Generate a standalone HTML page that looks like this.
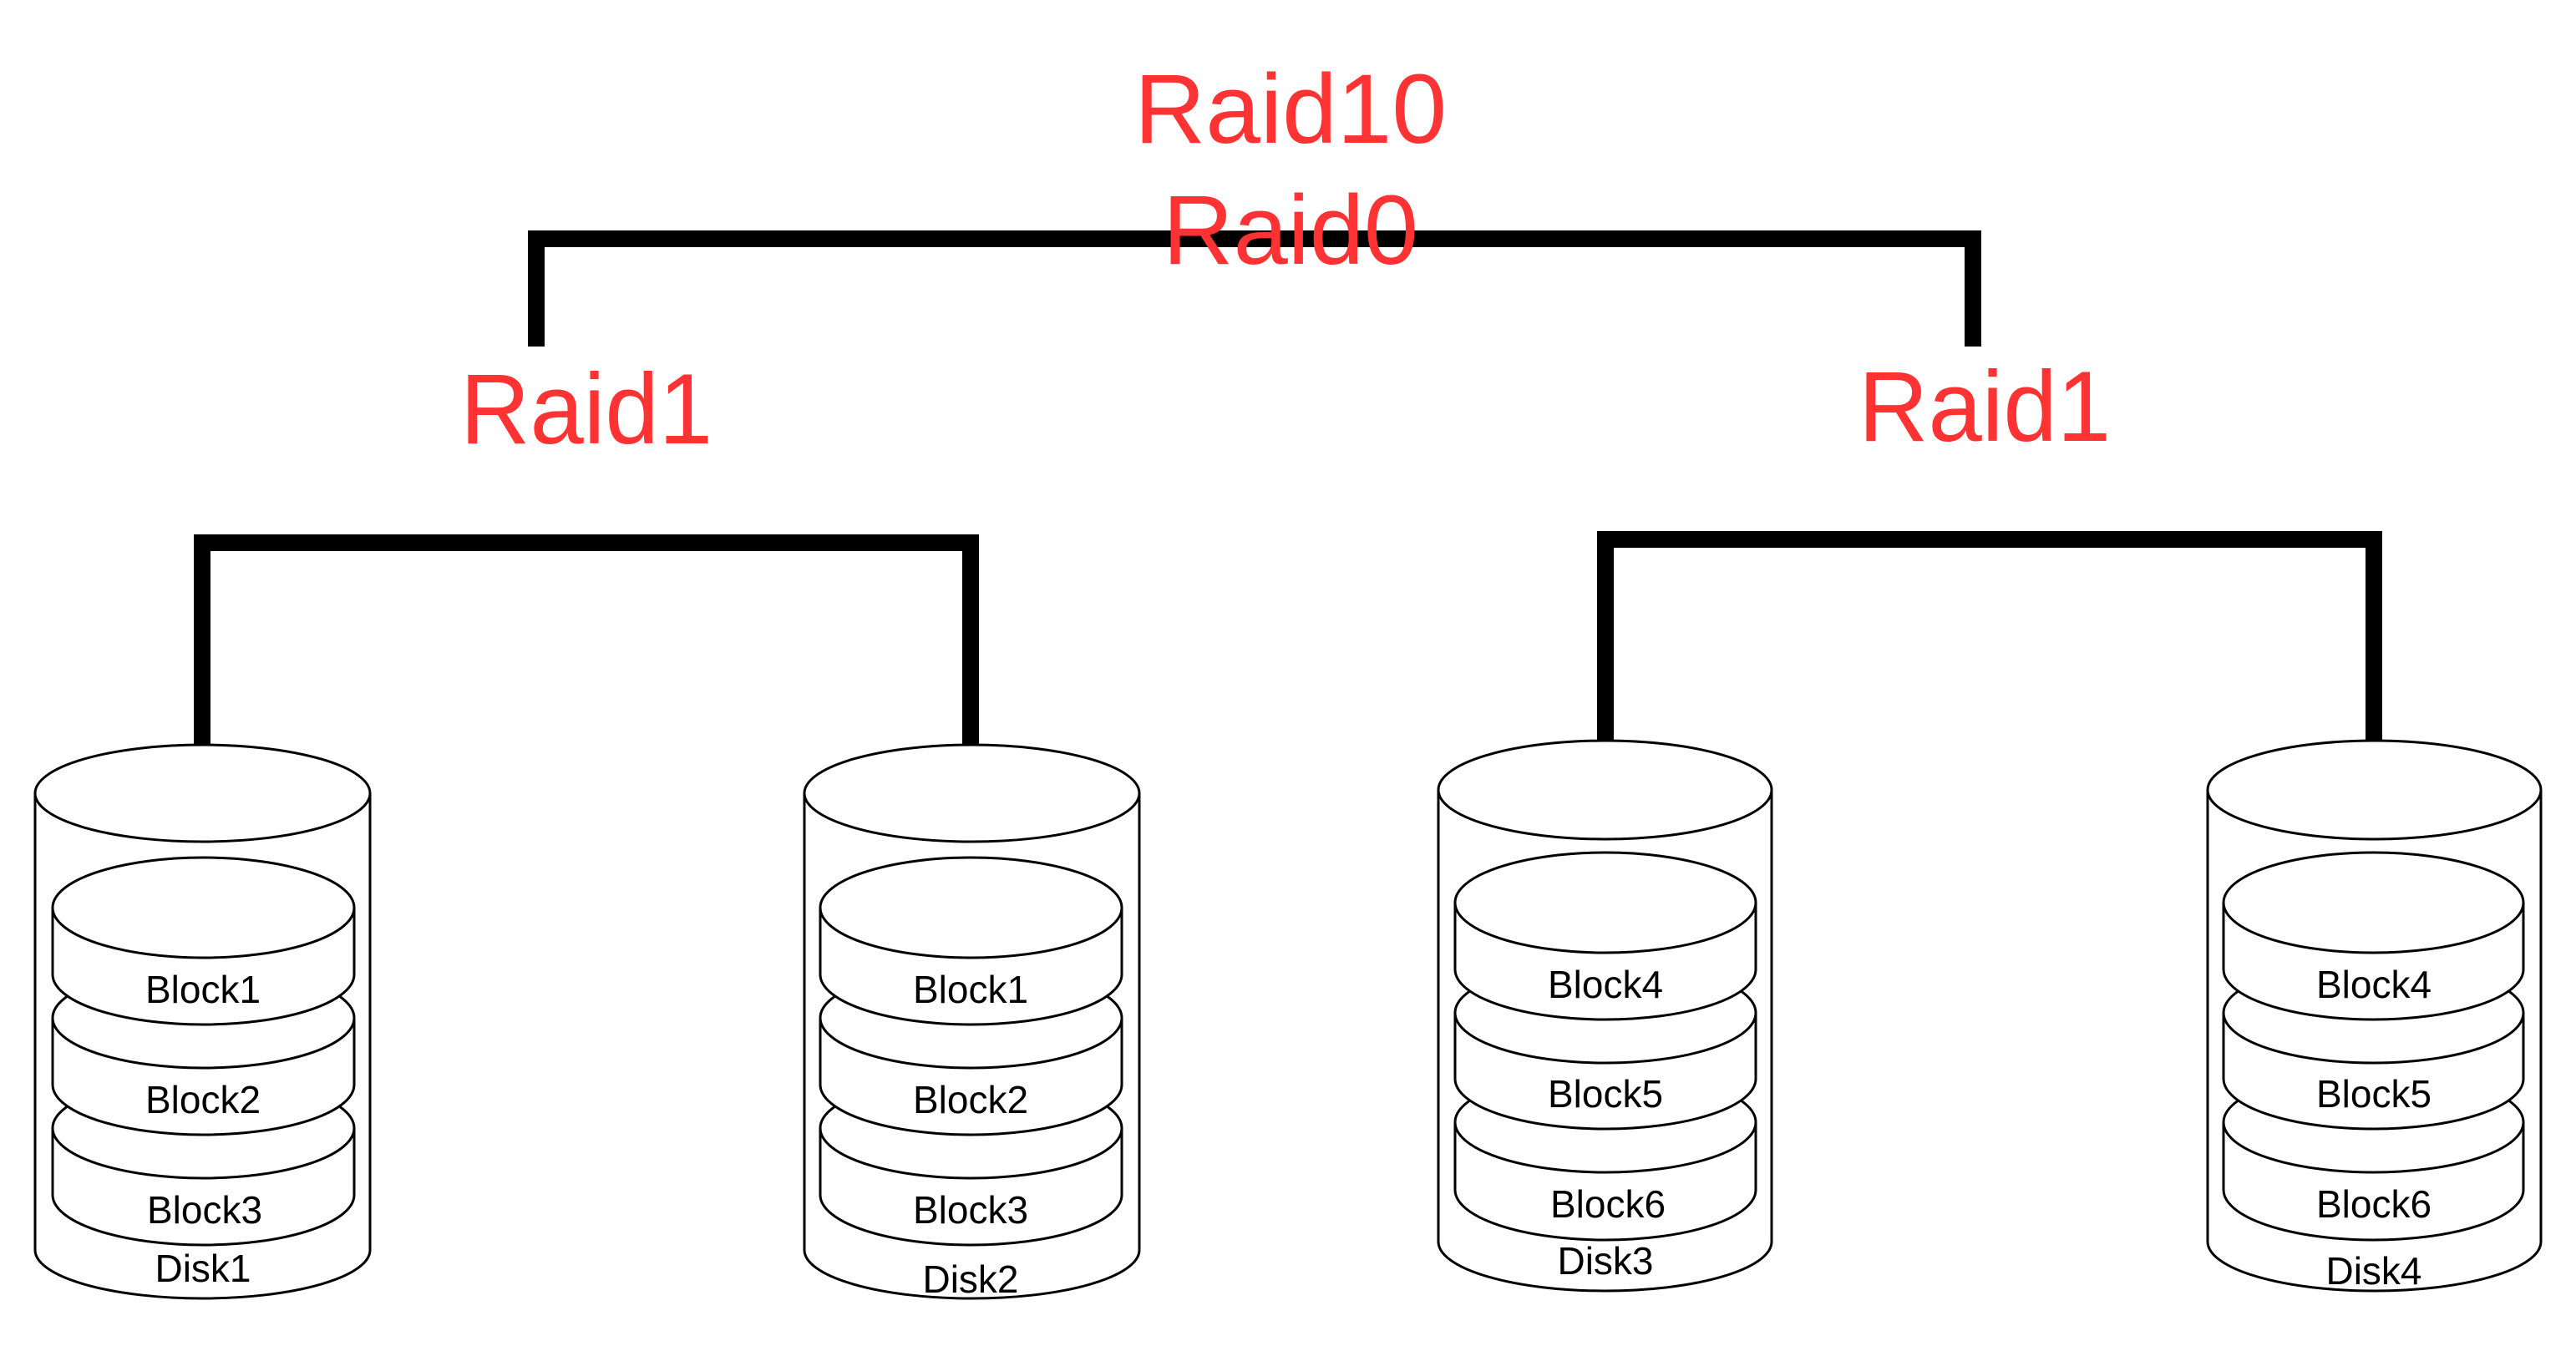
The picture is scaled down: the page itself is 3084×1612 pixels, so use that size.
<!DOCTYPE html>
<html><head><meta charset="utf-8"><style>html,body{margin:0;padding:0;background:#fff}svg{display:block}</style></head>
<body>
<svg width="3084" height="1612" viewBox="0 0 3084 1612" xmlns="http://www.w3.org/2000/svg">
<rect width="3084" height="1612" fill="#fff"/>
<g fill="none" stroke="#000" stroke-width="20" stroke-linecap="butt" stroke-linejoin="miter">
<polyline points="642,415 642,286 2362,286 2362,415"/>
<polyline points="242,900 242,650 1162,650 1162,900"/>
<polyline points="1922,896 1922,646 2842,646 2842,896"/>
</g>
<g font-family="Liberation Sans, sans-serif" fill="#ff3333" text-anchor="middle">
<text x="1545" y="171" font-size="118" textLength="374" lengthAdjust="spacingAndGlyphs">Raid10</text>
<text x="1545" y="316" font-size="118" textLength="306" lengthAdjust="spacingAndGlyphs">Raid0</text>
<text x="702" y="531" font-size="120" textLength="302" lengthAdjust="spacingAndGlyphs">Raid1</text>
<text x="2376" y="528" font-size="120" textLength="302" lengthAdjust="spacingAndGlyphs">Raid1</text>
</g>
<!-- Disk1 -->
<g stroke="#000" stroke-width="3" fill="#fff">
<path d="M42,950 L42,1497 A200.5,58 0 0 0 443,1497 L443,950"/>
<ellipse cx="242.5" cy="950" rx="200.5" ry="58"/>
<path d="M63,1351 L63,1431 A180.5,60 0 0 0 424,1431 L424,1351"/><ellipse cx="243.5" cy="1351" rx="180.5" ry="60"/>
<path d="M63,1219 L63,1299 A180.5,60 0 0 0 424,1299 L424,1219"/><ellipse cx="243.5" cy="1219" rx="180.5" ry="60"/>
<path d="M63,1087 L63,1167 A180.5,60 0 0 0 424,1167 L424,1087"/><ellipse cx="243.5" cy="1087" rx="180.5" ry="60"/>
</g>
<!-- Disk2 -->
<g stroke="#000" stroke-width="3" fill="#fff" transform="translate(-5,0)">
<path d="M968,950 L968,1497 A200.5,58 0 0 0 1369,1497 L1369,950"/>
<ellipse cx="1168.5" cy="950" rx="200.5" ry="58"/>
<path d="M987,1351 L987,1431 A180.5,60 0 0 0 1348,1431 L1348,1351"/><ellipse cx="1167.5" cy="1351" rx="180.5" ry="60"/>
<path d="M987,1219 L987,1299 A180.5,60 0 0 0 1348,1299 L1348,1219"/><ellipse cx="1167.5" cy="1219" rx="180.5" ry="60"/>
<path d="M987,1087 L987,1167 A180.5,60 0 0 0 1348,1167 L1348,1087"/><ellipse cx="1167.5" cy="1087" rx="180.5" ry="60"/>
</g>
<!-- Disk3 -->
<g stroke="#000" stroke-width="3" fill="#fff">
<path d="M1722,946 L1722,1487 A199.5,59 0 0 0 2121,1487 L2121,946"/>
<ellipse cx="1921.5" cy="946" rx="199.5" ry="59"/>
<path d="M1742,1344 L1742,1425 A180,60 0 0 0 2102,1425 L2102,1344"/><ellipse cx="1922" cy="1344" rx="180" ry="60"/>
<path d="M1742,1213 L1742,1292 A180,60 0 0 0 2102,1292 L2102,1213"/><ellipse cx="1922" cy="1213" rx="180" ry="60"/>
<path d="M1742,1081 L1742,1161 A180,60 0 0 0 2102,1161 L2102,1081"/><ellipse cx="1922" cy="1081" rx="180" ry="60"/>
</g>
<!-- Disk4 -->
<g stroke="#000" stroke-width="3" fill="#fff">
<path d="M2643,946 L2643,1487 A199.5,59 0 0 0 3042,1487 L3042,946"/>
<ellipse cx="2842.5" cy="946" rx="199.5" ry="59"/>
<path d="M2662,1344 L2662,1425 A179.5,60 0 0 0 3021,1425 L3021,1344"/><ellipse cx="2841.5" cy="1344" rx="179.5" ry="60"/>
<path d="M2662,1213 L2662,1292 A179.5,60 0 0 0 3021,1292 L3021,1213"/><ellipse cx="2841.5" cy="1213" rx="179.5" ry="60"/>
<path d="M2662,1081 L2662,1161 A179.5,60 0 0 0 3021,1161 L3021,1081"/><ellipse cx="2841.5" cy="1081" rx="179.5" ry="60"/>
</g>
<g font-family="Liberation Sans, sans-serif" font-size="46" fill="#000" text-anchor="middle">
<text x="243" y="1201">Block1</text><text x="243" y="1333">Block2</text><text x="245" y="1465">Block3</text><text x="243" y="1535">Disk1</text>
<text x="1162" y="1201">Block1</text><text x="1162" y="1333">Block2</text><text x="1162" y="1465">Block3</text><text x="1162" y="1548">Disk2</text>
<text x="1922" y="1195">Block4</text><text x="1922" y="1326">Block5</text><text x="1925" y="1458">Block6</text><text x="1922" y="1526">Disk3</text>
<text x="2842" y="1195">Block4</text><text x="2842" y="1326">Block5</text><text x="2842" y="1458">Block6</text><text x="2842" y="1538">Disk4</text>
</g>
</svg>
</body></html>
